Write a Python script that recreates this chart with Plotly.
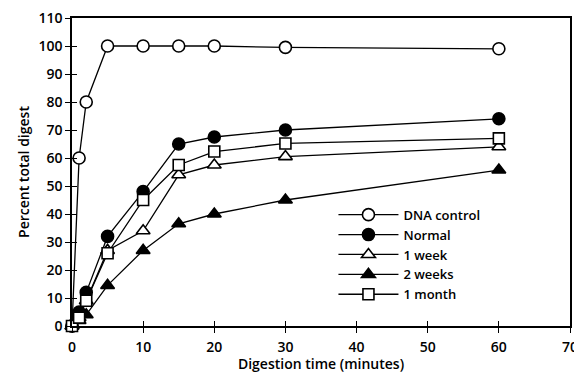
import plotly.graph_objects as go

time = [0, 1, 2, 5, 10, 15, 20, 30, 60]
dna_control = [0, 60, 80, 100, 100, 100, 100, 99.5, 99]
normal = [0, 5, 12, 32, 48, 65, 67.5, 70, 74]
one_week = [0, 3, 9, 27, 34, 54, 57.5, 60.5, 64]
two_weeks = [0, 2, 4, 14.5, 27, 36.5, 40, 45, 55.7]
one_month = [0, 3, 9, 26, 45, 57.5, 62.3, 65.2, 67]

series = [
    ("DNA control", dna_control, "circle", "white"),
    ("Normal", normal, "circle", "black"),
    ("1 week", one_week, "triangle-up", "white"),
    ("2 weeks", two_weeks, "triangle-up", "black"),
    ("1 month", one_month, "square", "white"),
]

fig = go.Figure()
for name, vals, sym, fill in series:
    fig.add_trace(go.Scatter(
        x=time, y=vals, name=name, mode="lines+markers",
        line=dict(color="black", width=1.3),
        marker=dict(symbol=sym, size=12 if sym != "square" else 11, color=fill,
                    line=dict(color="black", width=1.6)),
        cliponaxis=False,
    ))

FAM = "Open Sans, DejaVu Sans, Arial, sans-serif"
font = dict(family=FAM, size=14, color="black", weight=600)
fig.update_layout(
    width=574, height=365,
    margin=dict(l=64, r=12, t=10, b=47),
    plot_bgcolor="white", paper_bgcolor="white",
    font=font,
    showlegend=True,
    legend=dict(x=0.525, y=0.41, xanchor="left", yanchor="top",
                bgcolor="rgba(0,0,0,0)", itemwidth=60, tracegroupgap=0,
                font=dict(family=FAM, size=13, color="black", weight=600)),
    xaxis=dict(range=[0, 70], tickvals=[0, 10, 20, 30, 40, 50, 60, 70], automargin=False,
               showline=True, linecolor="black", linewidth=1.5, mirror=True,
               ticks="outside", ticklen=5, tickcolor="black", tickwidth=1.3,
               ticklabelstandoff=2, ticklabeloverflow="allow",
               showgrid=False, zeroline=False,
               title=dict(text="Digestion time (minutes)", standoff=3, font=font)),
    yaxis=dict(range=[0, 110], tickvals=list(range(0, 111, 10)), automargin=False,
               showline=True, linecolor="black", linewidth=1.5, mirror=True,
               ticks="outside", ticklen=5, tickcolor="black", tickwidth=1.3,
               ticklabeloverflow="allow",
               showgrid=False, zeroline=False,
               title=dict(text="Percent total digest", standoff=6, font=font)),
    xaxis2=dict(range=[0, 70], tickvals=[0, 10, 20, 30, 40, 50, 60, 70], automargin=False,
                overlaying="x", side="bottom", anchor="y", ticks="inside",
                ticklen=5, tickcolor="black", tickwidth=1.3,
                showticklabels=False, showgrid=False, zeroline=False, showline=False),
    yaxis2=dict(range=[0, 110], tickvals=list(range(0, 111, 10)), automargin=False,
                overlaying="y", side="left", anchor="x", ticks="inside",
                ticklen=5, tickcolor="black", tickwidth=1.3,
                showticklabels=False, showgrid=False, zeroline=False, showline=False),
)
# invisible helper trace to activate the inner-tick overlay axes
fig.add_trace(go.Scatter(x=[None], y=[None], xaxis="x2", yaxis="y2",
                         showlegend=False, hoverinfo="skip"))

fig.write_html("out.html")
